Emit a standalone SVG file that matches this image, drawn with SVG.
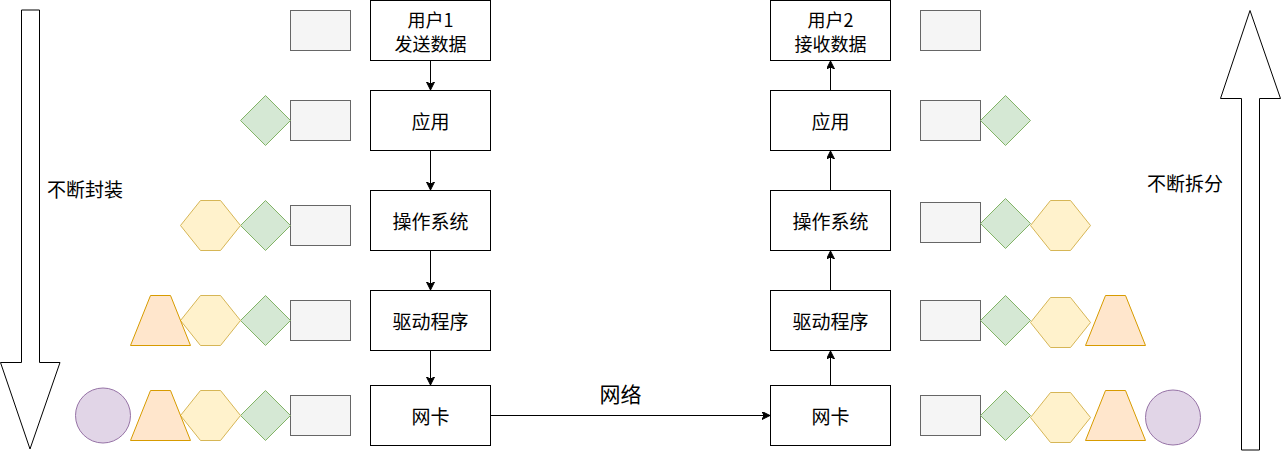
<svg xmlns="http://www.w3.org/2000/svg" width="1281" height="451" viewBox="0 0 1281 451">
<style>
.node{fill:#ffffff;stroke:#000000;stroke-width:1}
.t{font-family:"Noto Sans CJK SC","Liberation Sans",sans-serif;font-size:19px;fill:#000000;text-anchor:middle;dominant-baseline:central}
.t2{font-size:18px}
.g{fill:#f5f5f5;stroke:#666666;stroke-width:1}
.d{fill:#d5e8d4;stroke:#82b366;stroke-width:1}
.h{fill:#fff2cc;stroke:#d6b656;stroke-width:1}
.tr{fill:#ffe6cc;stroke:#d79b00;stroke-width:1}
.c{fill:#e1d5e7;stroke:#9673a6;stroke-width:1}
.big{fill:#ffffff;stroke:#000000;stroke-width:1}
.e{fill:none;stroke:#000000;stroke-width:1}
</style>
<defs>
<marker id="ah" markerWidth="10" markerHeight="10" refX="8" refY="4" orient="auto" markerUnits="userSpaceOnUse">
<path d="M0,0 L8,4 L0,8 L2,4 z" fill="#000000" stroke="#000000" stroke-width="1"/>
</marker>
</defs>
<rect width="1281" height="451" fill="#ffffff"/>

<g id="arrow-down">
<polygon class="big" points="21.5,10 39.5,10 39.5,362.5 60,362.5 30,449 0.5,362.5 21.5,362.5"/>
</g>
<g id="arrow-up">
<polygon class="big" points="1250,10.5 1280.5,98.5 1259.5,98.5 1259.5,450 1241.5,450 1241.5,98.5 1220.5,98.5"/>
</g>
<g id="label-encap"><text class="t" x="85" y="188.5">不断封装</text></g>
<g id="label-split"><text class="t" x="1185" y="182">不断拆分</text></g>

<g id="n-user1"><rect class="node" x="370.5" y="0.5" width="120" height="60"/><text class="t t2" x="430.5" y="18.5">用户1</text><text class="t t2" x="430.5" y="42.5">发送数据</text></g>
<g id="n-app1"><rect class="node" x="370.5" y="90.5" width="120" height="60"/><text class="t" x="430.5" y="120.5">应用</text></g>
<g id="n-os1"><rect class="node" x="370.5" y="190.5" width="120" height="60"/><text class="t" x="430.5" y="220.5">操作系统</text></g>
<g id="n-drv1"><rect class="node" x="370.5" y="290.5" width="120" height="60"/><text class="t" x="430.5" y="320.5">驱动程序</text></g>
<g id="n-nic1"><rect class="node" x="370.5" y="385.5" width="120" height="60"/><text class="t" x="430.5" y="415.5">网卡</text></g>

<g id="n-user2"><rect class="node" x="770.5" y="0.5" width="120" height="60"/><text class="t t2" x="830.5" y="18.5">用户2</text><text class="t t2" x="830.5" y="42.5">接收数据</text></g>
<g id="n-app2"><rect class="node" x="770.5" y="90.5" width="120" height="60"/><text class="t" x="830.5" y="120.5">应用</text></g>
<g id="n-os2"><rect class="node" x="770.5" y="190.5" width="120" height="60"/><text class="t" x="830.5" y="220.5">操作系统</text></g>
<g id="n-drv2"><rect class="node" x="770.5" y="290.5" width="120" height="60"/><text class="t" x="830.5" y="320.5">驱动程序</text></g>
<g id="n-nic2"><rect class="node" x="770.5" y="385.5" width="120" height="60"/><text class="t" x="830.5" y="415.5">网卡</text></g>

<g id="connectors">
<line class="e" x1="430.5" y1="60.5" x2="430.5" y2="90" marker-end="url(#ah)"/>
<line class="e" x1="430.5" y1="150.5" x2="430.5" y2="190" marker-end="url(#ah)"/>
<line class="e" x1="430.5" y1="250.5" x2="430.5" y2="290" marker-end="url(#ah)"/>
<line class="e" x1="430.5" y1="350.5" x2="430.5" y2="385" marker-end="url(#ah)"/>
<line class="e" x1="490.5" y1="415.5" x2="770" y2="415.5" marker-end="url(#ah)"/>
<line class="e" x1="830.5" y1="385.5" x2="830.5" y2="351" marker-end="url(#ah)"/>
<line class="e" x1="830.5" y1="290.5" x2="830.5" y2="251" marker-end="url(#ah)"/>
<line class="e" x1="830.5" y1="190.5" x2="830.5" y2="151" marker-end="url(#ah)"/>
<line class="e" x1="830.5" y1="90.5" x2="830.5" y2="61" marker-end="url(#ah)"/>
<text class="t" x="620.5" y="393" style="font-size:21px">网络</text>
</g>

<g id="packets-left">
<rect class="g" x="290.5" y="10.5" width="60" height="40"/>
<rect class="g" x="290.5" y="100.5" width="60" height="40"/>
<polygon class="d" points="265.5,95.5 290.5,120.5 265.5,145.5 240.5,120.5"/>
<rect class="g" x="290.5" y="205.5" width="60" height="40"/>
<polygon class="d" points="265.5,200.5 290.5,225.5 265.5,250.5 240.5,225.5"/>
<polygon class="h" points="180.5,225.5 200.5,200.5 220.5,200.5 240.5,225.5 220.5,250.5 200.5,250.5"/>
<rect class="g" x="290.5" y="300.5" width="60" height="40"/>
<polygon class="d" points="265.5,295.5 290.5,320.5 265.5,345.5 240.5,320.5"/>
<polygon class="h" points="180.5,320.5 200.5,295.5 220.5,295.5 240.5,320.5 220.5,345.5 200.5,345.5"/>
<polygon class="tr" points="130.5,345.5 150.5,295.5 170.5,295.5 190.5,345.5"/>
<rect class="g" x="290.5" y="395.5" width="60" height="40"/>
<polygon class="d" points="265.5,390.5 290.5,415.5 265.5,440.5 240.5,415.5"/>
<polygon class="h" points="180.5,415.5 200.5,390.5 220.5,390.5 240.5,415.5 220.5,440.5 200.5,440.5"/>
<polygon class="tr" points="130.5,440.5 150.5,390.5 170.5,390.5 190.5,440.5"/>
<circle class="c" cx="103" cy="415.5" r="27.5"/>
</g>

<g id="packets-right">
<rect class="g" x="920.5" y="10.5" width="60" height="40"/>
<rect class="g" x="920.5" y="100.5" width="60" height="40"/>
<polygon class="d" points="1005.5,95.5 1030.5,120.5 1005.5,145.5 980.5,120.5"/>
<rect class="g" x="920.5" y="202.5" width="60" height="40"/>
<polygon class="d" points="1005.5,198.5 1030.5,223.5 1005.5,248.5 980.5,223.5"/>
<polygon class="h" points="1030.5,225.5 1050.5,200.5 1070.5,200.5 1090.5,225.5 1070.5,250.5 1050.5,250.5"/>
<rect class="g" x="920.5" y="300.5" width="60" height="40"/>
<polygon class="d" points="1005.5,295.5 1030.5,320.5 1005.5,345.5 980.5,320.5"/>
<polygon class="h" points="1030.5,322.5 1050.5,297.5 1070.5,297.5 1090.5,322.5 1070.5,347.5 1050.5,347.5"/>
<polygon class="tr" points="1085.5,345.5 1105.5,295.5 1125.5,295.5 1145.5,345.5"/>
<rect class="g" x="920.5" y="395.5" width="60" height="40"/>
<polygon class="d" points="1005.5,390.5 1030.5,415.5 1005.5,440.5 980.5,415.5"/>
<polygon class="h" points="1030.5,417.5 1050.5,392.5 1070.5,392.5 1090.5,417.5 1070.5,442.5 1050.5,442.5"/>
<polygon class="tr" points="1085.5,440.5 1105.5,390.5 1125.5,390.5 1145.5,440.5"/>
<circle class="c" cx="1173" cy="417.5" r="27.5"/>
</g>
</svg>
